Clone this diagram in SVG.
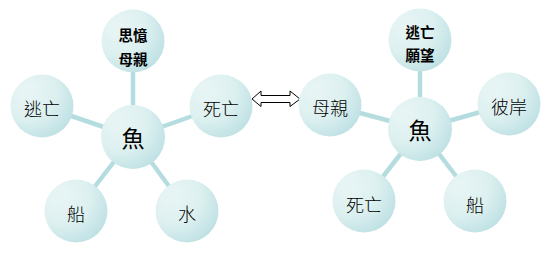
<svg xmlns="http://www.w3.org/2000/svg" width="552" height="271" viewBox="0 0 552 271">
<defs>
<radialGradient id="g" cx="0.3" cy="0.3" r="0.8" fx="0.25" fy="0.25">
<stop offset="0" stop-color="#e9f5f5"/>
<stop offset="0.55" stop-color="#ddf0f0"/>
<stop offset="1" stop-color="#bde0e3"/>
</radialGradient>
<style>
.n{fill:url(#g);}
.s{stroke:#b5dde0;stroke-width:4.5;fill:none;}
.t{font-family:"Noto Sans CJK TC","Noto Sans CJK SC",sans-serif;font-size:18px;font-weight:300;fill:#000;text-anchor:middle;dominant-baseline:central;}
.b{font-family:"Noto Sans CJK TC","Noto Sans CJK SC",sans-serif;font-size:14.5px;font-weight:bold;fill:#000;text-anchor:middle;dominant-baseline:central;}
.c{font-size:23px;font-weight:400;}
</style>
</defs>
<rect width="552" height="271" fill="#fff"/>
<g id="connectors">
<line class="s" x1="133" y1="137" x2="133" y2="41"/>
<line class="s" x1="133" y1="137" x2="42" y2="106"/>
<line class="s" x1="133" y1="137" x2="221" y2="106"/>
<line class="s" x1="133" y1="137" x2="76" y2="211"/>
<line class="s" x1="133" y1="137" x2="187" y2="211"/>
<line class="s" x1="420" y1="129" x2="420" y2="40"/>
<line class="s" x1="420" y1="129" x2="330" y2="105"/>
<line class="s" x1="420" y1="129" x2="509" y2="104"/>
<line class="s" x1="420" y1="129" x2="364" y2="201"/>
<line class="s" x1="420" y1="129" x2="475" y2="201"/>
<path d="M252,99 L261,91 L261,95.5 L290,95.5 L290,91 L300,99 L290,106.5 L290,102.5 L261,102.5 L261,106.5 Z" fill="#fff" stroke="#000" stroke-width="1"/>
</g>
<g id="n-l-top"><circle class="n" cx="133" cy="41" r="31.5"/><text class="b" x="133" y="34">思憶</text><text class="b" x="133" y="58">母親</text></g>
<g id="n-l-escape"><circle class="n" cx="42" cy="106" r="31.5"/><text class="t" x="42" y="108">逃亡</text></g>
<g id="n-l-death"><circle class="n" cx="221" cy="106" r="31.5"/><text class="t" x="221" y="108">死亡</text></g>
<g id="n-l-fish"><circle class="n" cx="133" cy="137" r="32"/><text class="t c" x="133" y="137">魚</text></g>
<g id="n-l-boat"><circle class="n" cx="76" cy="211" r="31.5"/><text class="t" x="76" y="213">船</text></g>
<g id="n-l-water"><circle class="n" cx="187" cy="211" r="31.5"/><text class="t" x="187" y="213">水</text></g>
<g id="n-r-top"><circle class="n" cx="420" cy="40" r="31.5"/><text class="b" x="420" y="31">逃亡</text><text class="b" x="420" y="54">願望</text></g>
<g id="n-r-mother"><circle class="n" cx="330" cy="105" r="31.5"/><text class="t" x="330" y="107">母親</text></g>
<g id="n-r-shore"><circle class="n" cx="509" cy="104" r="31.5"/><text class="t" x="509" y="106">彼岸</text></g>
<g id="n-r-fish"><circle class="n" cx="420" cy="129" r="32"/><text class="t c" x="420" y="129">魚</text></g>
<g id="n-r-death"><circle class="n" cx="364" cy="201" r="31.5"/><text class="t" x="364" y="204">死亡</text></g>
<g id="n-r-boat"><circle class="n" cx="475" cy="201" r="31.5"/><text class="t" x="475" y="204">船</text></g>
</svg>
